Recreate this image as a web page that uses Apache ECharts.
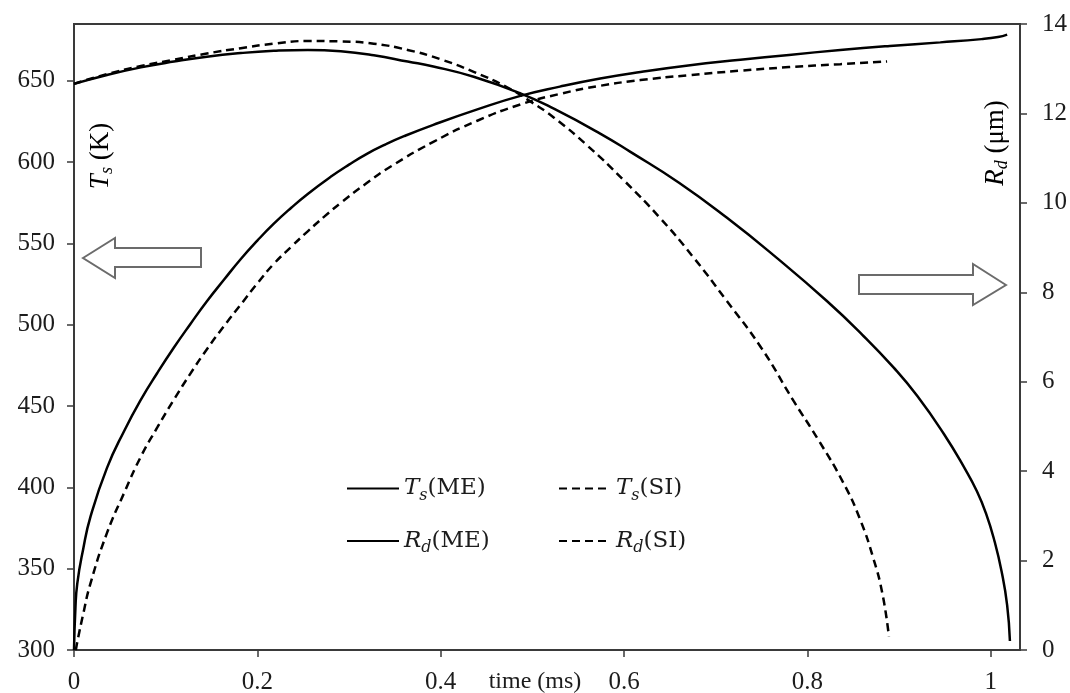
<!DOCTYPE html>
<html>
<head>
<meta charset="utf-8">
<title>Ts and Rd vs time</title>
<script src="https://cdn.jsdelivr.net/npm/echarts@6/dist/echarts.min.js"></script>
<style>
  html, body { margin: 0; padding: 0; background: #fff; }
  #chart { width: 1070px; height: 693px; }
</style>
</head>
<body>
<div id="chart"></div>
<script>
// time ticks (ms) and axis ticks
var timeTicks = [0, 0.2, 0.4, 0.6, 0.8, 1];
var tsTicks = [300, 350, 400, 450, 500, 550, 600, 650];
var rdTicks = [0, 2, 4, 6, 8, 10, 12, 14];

// surface temperature, K  [time ms, value]
var tsME = [
  [0, 300], [0.0015, 325], [0.0036, 341], [0.01, 362], [0.018, 382], [0.036, 412],
  [0.055, 435], [0.073, 454], [0.091, 470.5], [0.109, 486], [0.127, 500.5], [0.145, 514.5],
  [0.164, 528], [0.182, 540.5], [0.2, 551.8], [0.218, 562.2], [0.237, 572], [0.255, 580.5],
  [0.28, 591], [0.3, 598.5], [0.32, 605.3], [0.34, 611], [0.36, 616], [0.392, 623],
  [0.44, 632.5], [0.487, 640.8], [0.53, 646.5], [0.574, 651.5], [0.618, 655.5], [0.67, 659.5],
  [0.727, 663], [0.78, 666], [0.836, 669], [0.89, 671.5], [0.945, 673.7], [0.99, 675.7],
  [1.008, 677], [1.018, 678.5]
];
var tsSI = [
  [0.002, 300], [0.0036, 305], [0.01, 322], [0.018, 341], [0.036, 372], [0.055, 397],
  [0.073, 419], [0.091, 437], [0.109, 454], [0.127, 470], [0.145, 485], [0.164, 499.5],
  [0.182, 512.5], [0.2, 525.5], [0.218, 537.5], [0.237, 548], [0.255, 557.5], [0.273, 566.5],
  [0.291, 575], [0.319, 587], [0.346, 597.5], [0.392, 612.5], [0.44, 625.5], [0.487, 635.5],
  [0.53, 642], [0.574, 647], [0.618, 650.5], [0.67, 653.5], [0.727, 656.3],
  [0.78, 658.5], [0.836, 660.3], [0.887, 662]
];

// droplet radius, um  [time ms, value]
var rdME = [
  [0, 12.66], [0.036, 12.86], [0.073, 13.03], [0.109, 13.16], [0.145, 13.27],
  [0.182, 13.35], [0.218, 13.4], [0.255, 13.42], [0.291, 13.39], [0.327, 13.3],
  [0.364, 13.16], [0.392, 13.05], [0.436, 12.82], [0.487, 12.45], [0.524, 12.1],
  [0.574, 11.55], [0.607, 11.14], [0.66, 10.45], [0.712, 9.67], [0.766, 8.78],
  [0.821, 7.81], [0.86, 7.05], [0.894, 6.32], [0.92, 5.68], [0.949, 4.83],
  [0.972, 4.05], [0.985, 3.55], [0.995, 3.05], [1.004, 2.45], [1.012, 1.75],
  [1.018, 1.0], [1.021, 0.2]
];
var rdSI = [
  [0, 12.66], [0.036, 12.88], [0.073, 13.06], [0.109, 13.2], [0.145, 13.34],
  [0.182, 13.46], [0.218, 13.56], [0.255, 13.62], [0.291, 13.61], [0.327, 13.56],
  [0.364, 13.42], [0.4, 13.21], [0.436, 12.93], [0.473, 12.58], [0.5, 12.24],
  [0.524, 11.9], [0.559, 11.3], [0.6, 10.5], [0.639, 9.67], [0.675, 8.8],
  [0.712, 7.81], [0.75, 6.75], [0.785, 5.57], [0.812, 4.7], [0.839, 3.75],
  [0.857, 2.95], [0.872, 2.05], [0.882, 1.25], [0.889, 0.3]
];

var legendText = {
  'Ts(ME)': '{v|T}{s|s}{n|(ME)}',
  'Ts(SI)': '{v|T}{s|s}{n|(SI)}',
  'Rd(ME)': '{v|R}{s|d}{n|(ME)}',
  'Rd(SI)': '{v|R}{s|d}{n|(SI)}'
};

var ink = '#1c1c1c';
var frame = '#3a3a3a';
var serif = 'Liberation Serif';

var legendRich = {
  v: { fontFamily: 'DejaVu Serif', fontStyle: 'italic', fontSize: 23, lineHeight: 30, color: ink },
  s: { fontFamily: 'DejaVu Serif', fontStyle: 'italic', fontSize: 16, lineHeight: 15, verticalAlign: 'bottom', color: ink },
  n: { fontFamily: 'DejaVu Serif', fontSize: 23, lineHeight: 30, color: ink }
};
var nameRich = {
  v: { fontFamily: serif, fontStyle: 'italic', fontSize: 27, lineHeight: 30, color: ink },
  s: { fontFamily: serif, fontStyle: 'italic', fontSize: 18, lineHeight: 16, verticalAlign: 'bottom', color: ink },
  n: { fontFamily: serif, fontSize: 27, lineHeight: 30, color: ink }
};

var myChart = echarts.init(document.getElementById('chart'));

function lineSeries (name, data, axis, dashed) {
  return {
    name: name,
    type: 'line',
    yAxisIndex: axis,
    data: data,
    smooth: 0.5,
    symbol: 'none',
    lineStyle: { color: '#000', width: 2.5, type: dashed ? [8, 5] : 'solid' },
    itemStyle: { color: '#000' }
  };
}

function legendBlock (names, left) {
  return {
    data: names,
    orient: 'vertical',
    left: left, top: 472,
    itemWidth: 52, itemHeight: 14, itemGap: 26,
    itemStyle: { opacity: 0 },
    formatter: function (n) { return legendText[n]; },
    textStyle: { rich: legendRich }
  };
}

var option = {
  animation: false,
  backgroundColor: '#fff',
  grid: {
    left: 74, right: 50, top: 24, bottom: 43,
    outerBoundsMode: 'none',
    containLabel: false,
    show: true, borderColor: frame, borderWidth: 2
  },
  legend: [
    legendBlock(['Ts(ME)', 'Rd(ME)'], 341),
    legendBlock(['Ts(SI)', 'Rd(SI)'], 553)
  ],
  xAxis: {
    type: 'value',
    min: 0, max: 1.032,
    splitLine: { show: false },
    axisLine: { lineStyle: { color: frame, width: 2 } },
    axisTick: { customValues: timeTicks, length: 7, inside: false, lineStyle: { color: frame, width: 1.5 } },
    axisLabel: {
      customValues: timeTicks,
      margin: 20,
      fontFamily: serif, fontSize: 25, color: ink,
      formatter: function (v) { return String(v); }
    }
  },
  yAxis: [
    {
      type: 'value',
      min: 300, max: 685,
      position: 'left',
      splitLine: { show: false },
      axisLine: { show: true, lineStyle: { color: frame, width: 2 } },
      axisTick: { show: true, customValues: tsTicks, length: 7, lineStyle: { color: frame, width: 1.5 } },
      axisLabel: { customValues: tsTicks, margin: 19, fontFamily: serif, fontSize: 25, color: ink }
    },
    {
      type: 'value',
      min: 0, max: 14,
      position: 'right',
      splitLine: { show: false },
      axisLine: { show: true, lineStyle: { color: frame, width: 2 } },
      axisTick: { show: true, customValues: rdTicks, length: 7, lineStyle: { color: frame, width: 1.5 } },
      axisLabel: { customValues: rdTicks, margin: 22, fontFamily: serif, fontSize: 25, color: ink }
    }
  ],
  graphic: [
    {
      type: 'text', x: 535, y: 682,
      style: { text: 'time (ms)', fontFamily: serif, fontSize: 24, fill: ink, align: 'center', verticalAlign: 'middle' }
    },
    {
      type: 'text', x: 101, y: 156, rotation: Math.PI / 2,
      style: { text: '{v|T}{s|s}{n| (K)}', rich: nameRich, align: 'center', verticalAlign: 'middle' }
    },
    {
      type: 'text', x: 996, y: 143, rotation: Math.PI / 2,
      style: { text: '{v|R}{s|d}{n| (\u03bcm)}', rich: nameRich, align: 'center', verticalAlign: 'middle' }
    },
    {
      type: 'polygon',
      shape: { points: [[83, 258], [115, 238], [115, 248], [201, 248], [201, 267], [115, 267], [115, 278]] },
      style: { fill: '#fff', stroke: '#6b6b6b', lineWidth: 2 }
    },
    {
      type: 'polygon',
      shape: { points: [[1006, 285], [973, 264], [973, 275], [859, 275], [859, 294], [973, 294], [973, 305]] },
      style: { fill: '#fff', stroke: '#6b6b6b', lineWidth: 2 }
    }
  ],
  series: [
    lineSeries('Ts(ME)', tsME, 0, false),
    lineSeries('Ts(SI)', tsSI, 0, true),
    lineSeries('Rd(ME)', rdME, 1, false),
    lineSeries('Rd(SI)', rdSI, 1, true)
  ]
};
myChart.setOption(option);
window.addEventListener('resize', function () { myChart.resize(); });
</script>
</body>
</html>
